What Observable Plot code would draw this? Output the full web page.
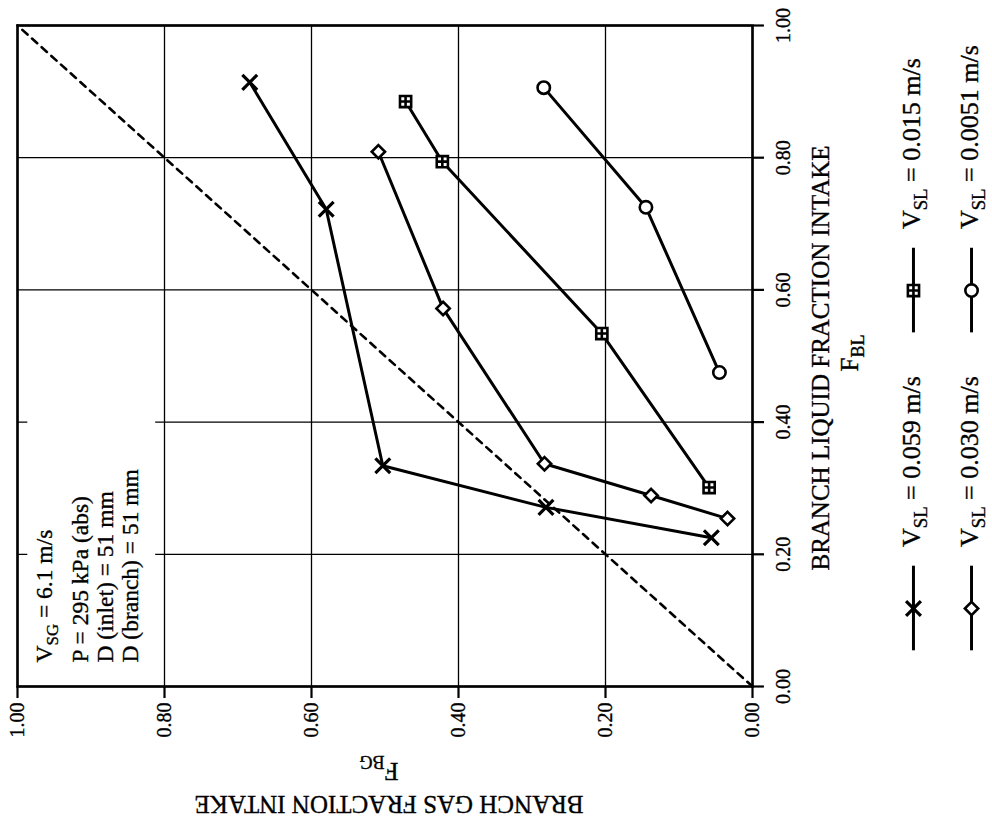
<!DOCTYPE html>
<html>
<head>
<meta charset="utf-8">
<script src="https://cdn.jsdelivr.net/npm/d3@7"></script>
<script src="https://cdn.jsdelivr.net/npm/@observablehq/plot@0.6"></script>
<style>
  html, body { margin: 0; padding: 0; background: #fff; }
  #chart svg { display: block; }
  #chart text { white-space: pre; stroke: black; stroke-width: 0.35px; }
</style>
</head>
<body>
<div id="chart"></div>
<script>
// ---------------- data ----------------
const seriesKeys = ["0.059", "0.030", "0.015", "0.0051"];
const seriesLabels = ["V_{SL} = 0.059 m/s", "V_{SL} = 0.030 m/s", "V_{SL} = 0.015 m/s", "V_{SL} = 0.0051 m/s"];

// F_BG (branch gas fraction) and F_BL (branch liquid fraction) per series
const fbg059 = [0.684, 0.580, 0.503, 0.281, 0.056];
const fbl059 = [0.914, 0.722, 0.334, 0.271, 0.225];

const fbg030 = [0.509, 0.421, 0.283, 0.138, 0.034];
const fbl030 = [0.809, 0.572, 0.337, 0.289, 0.254];

const fbg015 = [0.472, 0.422, 0.205, 0.059];
const fbl015 = [0.885, 0.794, 0.534, 0.301];

const fbg0051 = [0.284, 0.145, 0.045];
const fbl0051 = [0.906, 0.725, 0.475];

const axisTicks = [0, 0.2, 0.4, 0.6, 0.8, 1.0];
const diagonal = [0, 1];

const xTitle = "BRANCH GAS FRACTION INTAKE";
const xSymbol = "F_{BG}";
const yTitle = "BRANCH LIQUID FRACTION INTAKE";
const ySymbol = "F_{BL}";
const insetLines = ["V_{SG} = 6.1 m/s", "P = 295 kPa (abs)", "D (inlet) = 51 mm", "D (branch) = 51 mm"];

// ---------------- build tables ----------------
const allG = [fbg059, fbg030, fbg015, fbg0051];
const allL = [fbl059, fbl030, fbl015, fbl0051];
const points = [];
seriesKeys.forEach((k, i) => allG[i].forEach((g, j) => points.push({s: k, fbg: g, fbl: allL[i][j]})));

// custom "square with plus" symbol
const squarePlus = {
  draw(ctx, size) {
    const r = Math.sqrt(size) * 0.45;
    ctx.moveTo(-r, -r); ctx.lineTo(r, -r); ctx.lineTo(r, r); ctx.lineTo(-r, r); ctx.closePath();
    ctx.moveTo(0, -r); ctx.lineTo(0, r);
    ctx.moveTo(-r, 0); ctx.lineTo(r, 0);
  }
};
const symbols = ["times", "diamond2", squarePlus, "circle"];
const symbolR = [6.8, 6.0, 7.0, 6.2];

// legend layout (in data units of the chart's scales, outside the frame)
const legCols = [-0.219, -0.298];
const legRows = [0.118, 0.599];
const legendItems = seriesKeys.map((k, i) => ({
  s: k, label: seriesLabels[i], col: legCols[i % 2], row: legRows[Math.floor(i / 2)]
}));

// inset box (white background behind the condition text)
const insetBox = [{x1: 0.986, x2: 0.812, y1: 0.004, y2: 0.45}];

const font = "'Liberation Serif', 'Times New Roman', serif";

const marks = [
  Plot.gridX({ticks: axisTicks, stroke: "black", strokeOpacity: 1, strokeWidth: 1.3}),
  Plot.gridY({ticks: axisTicks, stroke: "black", strokeOpacity: 1, strokeWidth: 1.3}),
  Plot.rect(insetBox, {x1: "x1", x2: "x2", y1: "y1", y2: "y2", fill: "white"}),
  Plot.line(diagonal, {x: d => d, y: d => d, stroke: "black", strokeWidth: 2.6, strokeDasharray: "7,6"}),
  Plot.line(points, {x: "fbg", y: "fbl", z: "s", stroke: "black", strokeWidth: 3})
];
seriesKeys.forEach((k, i) => {
  marks.push(Plot.dot(points.filter(p => p.s === k), {
    x: "fbg", y: "fbl", symbol: symbols[i], r: symbolR[i],
    stroke: "black", fill: "white", strokeWidth: i === 0 ? 3.2 : 2.6
  }));
});
marks.push(
  Plot.frame({stroke: "black", strokeWidth: 2.6}),
  Plot.axisX({anchor: "bottom", ticks: axisTicks, tickFormat: d3.format(".2f"), tickSize: 12,
    tickRotate: -90, tickPadding: 4, fontSize: 20, label: null, strokeWidth: 2.2}),
  Plot.axisY({anchor: "right", ticks: axisTicks, tickFormat: d3.format(".2f"), tickSize: 11,
    tickRotate: -90, tickPadding: 12, lineAnchor: "top", textAnchor: "middle", fontSize: 20, label: null, strokeWidth: 2.2}),
  // axis titles
  Plot.text([yTitle], {text: d => d, frameAnchor: "right", dx: 68, dy: 2, rotate: -90, fontSize: 25,
    textAnchor: "middle", lineAnchor: "middle"}),
  Plot.text([ySymbol], {text: d => d, frameAnchor: "right", dx: 97, dy: -3, rotate: -90, fontSize: 25,
    textAnchor: "middle", lineAnchor: "middle"}),
  Plot.text([xTitle], {text: d => d, frameAnchor: "bottom", dx: 4, dy: 117, rotate: 180, fontSize: 25,
    textAnchor: "middle", lineAnchor: "middle"}),
  Plot.text([xSymbol], {text: d => d, frameAnchor: "bottom", dx: -6, dy: 84, rotate: 180, fontSize: 25,
    textAnchor: "middle", lineAnchor: "middle"}),
  // legend
  Plot.ruleX(legendItems, {x: "col", y1: d => d.row - 0.064, y2: d => d.row + 0.064, stroke: "black", strokeWidth: 3}),
  Plot.text(legendItems, {x: "col", y: d => d.row + 0.093, text: "label", rotate: -90, textAnchor: "start",
    lineAnchor: "middle", fontSize: 26, dx: -2})
);
legendItems.forEach((it, i) => {
  marks.push(Plot.dot([it], {x: "col", y: "row", symbol: symbols[i], r: symbolR[i],
    stroke: "black", fill: "white", strokeWidth: i === 0 ? 3.2 : 2.6}));
});
// inset condition text
const insetDx = [27, 63, 88, 113];
insetLines.forEach((line, i) => {
  marks.push(Plot.text([line], {text: d => d, frameAnchor: "bottom-left", dx: insetDx[i], dy: -24,
    rotate: -90, textAnchor: "start", lineAnchor: "middle", fontSize: 23.5}));
});

const chart = Plot.plot({
  width: 992,
  height: 824,
  marginLeft: 17,
  marginRight: 240,
  marginTop: 25,
  marginBottom: 138,
  style: {fontFamily: font, background: "white", color: "black"},
  x: {domain: [0, 1], reverse: true, axis: null},
  y: {domain: [0, 1], axis: null},
  marks
});
document.getElementById("chart").appendChild(chart);

// ---------------- subscripts: turn "_{..}" into real subscript tspans ----------------
(function applySubscripts(root) {
  const ns = "http://www.w3.org/2000/svg";
  const els = [...root.querySelectorAll("text, tspan")].filter(el =>
    [...el.childNodes].some(n => n.nodeType === 3 && n.nodeValue.includes("_{")));
  for (const el of els) {
    const fs = parseFloat(getComputedStyle(el).fontSize) || 20;
    const sh = 0.26 * fs;
    const s = el.textContent;
    el.textContent = "";
    const re = /_\{([^}]*)\}/g;
    let last = 0, m, shifted = false;
    const add = (txt, attrs) => {
      const t = document.createElementNS(ns, "tspan");
      t.textContent = txt;
      for (const [k, v] of Object.entries(attrs)) t.setAttribute(k, v);
      el.appendChild(t);
    };
    while ((m = re.exec(s))) {
      if (m.index > last) {
        add(s.slice(last, m.index), shifted ? {dy: -sh} : {});
        shifted = false;
      }
      add(m[1], {dy: sh, "font-size": 0.72 * fs});
      shifted = true;
      last = re.lastIndex;
    }
    if (last < s.length) add(s.slice(last), shifted ? {dy: -sh} : {});
  }
})(chart);
</script>
</body>
</html>
